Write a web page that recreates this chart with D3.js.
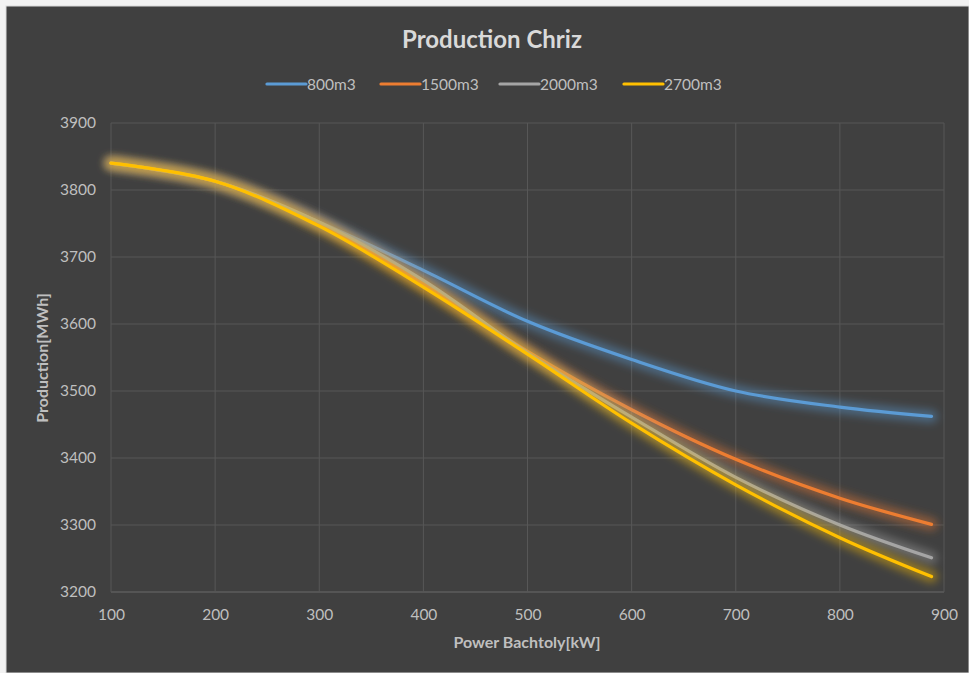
<!DOCTYPE html>
<html><head><meta charset="utf-8">
<script src="https://cdn.jsdelivr.net/npm/d3@7"></script>
<style>
html,body{margin:0;padding:0;background:#f2f2f2;}
svg{display:block;}
</style></head>
<body>
<svg id="chart" width="969" height="673"></svg>
<script>
const xValues = [100, 200, 300, 400, 500, 600, 700, 800, 888];
const seriesNames = ["800m3", "1500m3", "2000m3", "2700m3"];
const s800  = [3840, 3813, 3752, 3680, 3604, 3547, 3500, 3476, 3462];
const s1500 = [3840, 3813, 3750, 3660, 3559, 3472, 3398, 3340, 3301];
const s2000 = [3840, 3813, 3752, 3665, 3557, 3461, 3371, 3300, 3251];
const s2700 = [3840, 3813, 3746, 3655, 3555, 3452, 3360, 3281, 3223];
const seriesColors = ["#5B9BD5", "#ED7D31", "#A5A5A5", "#FFC000"];
const xTicks = [100, 200, 300, 400, 500, 600, 700, 800, 900];
const yTicks = [3200, 3300, 3400, 3500, 3600, 3700, 3800, 3900];
const titleText = "Production Chriz";
const xTitle = "Power Bachtoly[kW]";
const yTitle = "Production[MWh]";

const series = [s800, s1500, s2000, s2700].map((vals, i) => ({
  name: seriesNames[i], color: seriesColors[i],
  points: vals.map((v, j) => ({x: xValues[j], y: v}))
}));

const svg = d3.select("#chart");
const font = "Lato, 'Open Sans', sans-serif";
const textCol = "#bfbfbf";

svg.append("rect").attr("x", 6).attr("y", 6).attr("width", 963).attr("height", 667)
  .attr("fill", "#404040").attr("stroke", "#d9d9d9").attr("stroke-width", 1);

const x = d3.scaleLinear().domain([100, 900]).range([111, 944]);
const y = d3.scaleLinear().domain([3200, 3900]).range([592, 123]);

const defs = svg.append("defs");
const f = defs.append("filter").attr("id", "glow").attr("x", "-10%").attr("y", "-30%")
  .attr("width", "120%").attr("height", "160%");
f.append("feGaussianBlur").attr("stdDeviation", 4);

const grid = svg.append("g");
grid.selectAll("line.h").data(yTicks).join("line")
  .attr("x1", x(100)).attr("x2", x(900))
  .attr("y1", d => y(d)).attr("y2", d => y(d))
  .attr("stroke", d => d === 3200 ? "#6a6a6a" : "#575757").attr("stroke-width", 1);
grid.selectAll("line.v").data(xTicks).join("line")
  .attr("y1", y(3200)).attr("y2", y(3900))
  .attr("x1", d => x(d)).attr("x2", d => x(d))
  .attr("stroke", "#575757").attr("stroke-width", 1);

const xAxis = d3.axisBottom(x).tickValues(xTicks).tickFormat(d3.format("d")).tickSize(0).tickPadding(17);
const gx = svg.append("g").attr("transform", `translate(0,${y(3200)})`).call(xAxis);
gx.select(".domain").remove();
gx.selectAll("text").attr("fill", textCol).attr("font-size", 15.5).attr("font-family", font);

const yAxis = d3.axisLeft(y).tickValues(yTicks).tickFormat(d3.format("d")).tickSize(0).tickPadding(15);
const gy = svg.append("g").attr("transform", `translate(${x(100)},0)`).call(yAxis);
gy.select(".domain").remove();
gy.selectAll("text").attr("fill", textCol).attr("font-size", 15.5).attr("font-family", font);

const line = d3.line().x(d => x(d.x)).y(d => y(d.y)).curve(d3.curveCatmullRom.alpha(0.5));
const lg = svg.append("g");
series.forEach(s => {
  lg.append("path").datum(s.points).attr("d", line)
    .attr("fill", "none").attr("stroke", s.color).attr("stroke-width", 12)
    .attr("stroke-opacity", 0.45).attr("stroke-linecap", "round")
    .attr("filter", "url(#glow)");
  lg.append("path").datum(s.points).attr("d", line)
    .attr("fill", "none").attr("stroke", s.color).attr("stroke-width", 3.2)
    .attr("stroke-linecap", "round");
});

svg.append("text").attr("x", 492).attr("y", 48).attr("text-anchor", "middle")
  .attr("font-family", font).attr("font-weight", "bold").attr("font-size", 24)
  .attr("fill", "#d9d9d9").text(titleText);

const legendX = [267, 381, 500, 624];
const leg = svg.append("g");
series.forEach((s, i) => {
  const g = leg.append("g").attr("transform", `translate(${legendX[i]},84)`);
  g.append("line").attr("x1", 0).attr("x2", 39).attr("y1", 0).attr("y2", 0)
    .attr("stroke", s.color).attr("stroke-width", 3.2).attr("stroke-linecap", "round");
  g.append("text").attr("x", 40).attr("y", 5.5).attr("font-family", font).attr("font-size", 15.5)
    .attr("fill", textCol).text(s.name);
});

svg.append("text").attr("x", 527).attr("y", 648).attr("text-anchor", "middle")
  .attr("font-family", font).attr("font-weight", "bold").attr("font-size", 16)
  .attr("fill", textCol).text(xTitle);
svg.append("text").attr("transform", `translate(48,358) rotate(-90)`).attr("text-anchor", "middle")
  .attr("font-family", font).attr("font-weight", "bold").attr("font-size", 16)
  .attr("fill", textCol).text(yTitle);
</script>
</body></html>
